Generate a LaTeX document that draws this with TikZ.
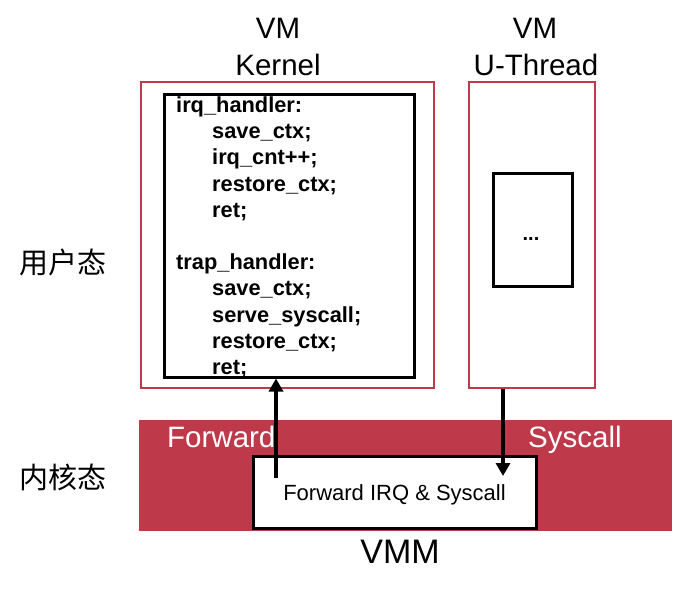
\documentclass[tikz,border=0pt]{standalone}
\usepackage{fontspec}
\setmainfont{Liberation Sans}
\newfontfamily\cjk{Noto Sans CJK SC}
\usetikzlibrary{arrows.meta}
\definecolor{vred}{HTML}{BE3A4B}
\begin{document}
\begin{tikzpicture}[x=1pt,y=-1pt,
  redbox/.style={draw=vred,line width=1.5pt,anchor=north west,inner sep=0pt},
  blkbox/.style={draw=black,line width=2.5pt,fill=white,anchor=north west,inner sep=0pt},
  codeline/.style={font=\fontsize{21.8}{24}\selectfont\bfseries,anchor=base west,inner sep=0pt},
  head/.style={font=\fontsize{29.5}{32}\selectfont,anchor=base,inner sep=0pt},
  cjklab/.style={font=\cjk\fontsize{29}{32}\selectfont,inner sep=0pt},
  arr/.style={line width=3.5pt,-{Triangle[length=13pt,width=14pt]}}]
\useasboundingbox (0,0) rectangle (674,594);
% band
\node[anchor=north west,fill=vred,minimum width=533pt,minimum height=111pt,inner sep=0pt] (band) at (139,420) {};
% VM kernel
\node[redbox,minimum width=293pt,minimum height=306pt] (kern) at (140,81) {};
\node[blkbox,minimum width=250pt,minimum height=283pt] (kin) at (163,93) {};
% VM U-thread
\node[redbox,minimum width=126pt,minimum height=306pt] (ut) at (468,81) {};
\node[blkbox,minimum width=79pt,minimum height=113pt] (uin) at (492,172) {};
\node[font=\fontsize{20}{24}\selectfont\bfseries,inner sep=0pt,anchor=base] (dots) at (531,240) {...};
% code
\foreach \t/\i/\xx in {irq\_handler:/0/176, save\_ctx;/1/212, irq\_cnt++;/2/212, restore\_ctx;/3/212, ret;/4/212,
  trap\_handler:/6/176, save\_ctx;/7/212, serve\_syscall;/8/212, restore\_ctx;/9/212, ret;/10/212}
  \node[codeline] (c\i) at (\xx,112.5+26.2*\i) {\t};
% headings
\node[head] (vm1) at (278,38) {VM};
\node[head] (kt) at (278,75) {Kernel};
\node[head] (vm2) at (535,38) {VM};
\node[head] (utt) at (536,75) {U-Thread};
\node[cjklab] (user) at (63,262) {用户态};
\node[cjklab] (kmode) at (63,477) {内核态};
% VMM
\node[font=\fontsize{29.5}{32}\selectfont,text=white,anchor=base west,inner sep=0pt] (fw) at (167,447) {Forward};
\node[font=\fontsize{29.5}{32}\selectfont,text=white,anchor=base west,inner sep=0pt] (sc) at (528,447) {Syscall};
\node[blkbox,minimum width=283pt,minimum height=72pt] (fbox) at (252,455) {};
\node[font=\fontsize{22}{24}\selectfont,inner sep=0pt,anchor=base] (ftext) at (394.5,500) {Forward IRQ \& Syscall};
\node[font=\fontsize{34}{36}\selectfont,anchor=base,inner sep=0pt] (vmm) at (400,563) {VMM};
% arrows
\coordinate (a1s) at (276,478);
\draw[arr] (a1s) -- (a1s |- kin.south);
\coordinate (a2e) at (503,476);
\draw[arr] (a2e |- ut.south) -- (a2e);
\end{tikzpicture}
\end{document}
